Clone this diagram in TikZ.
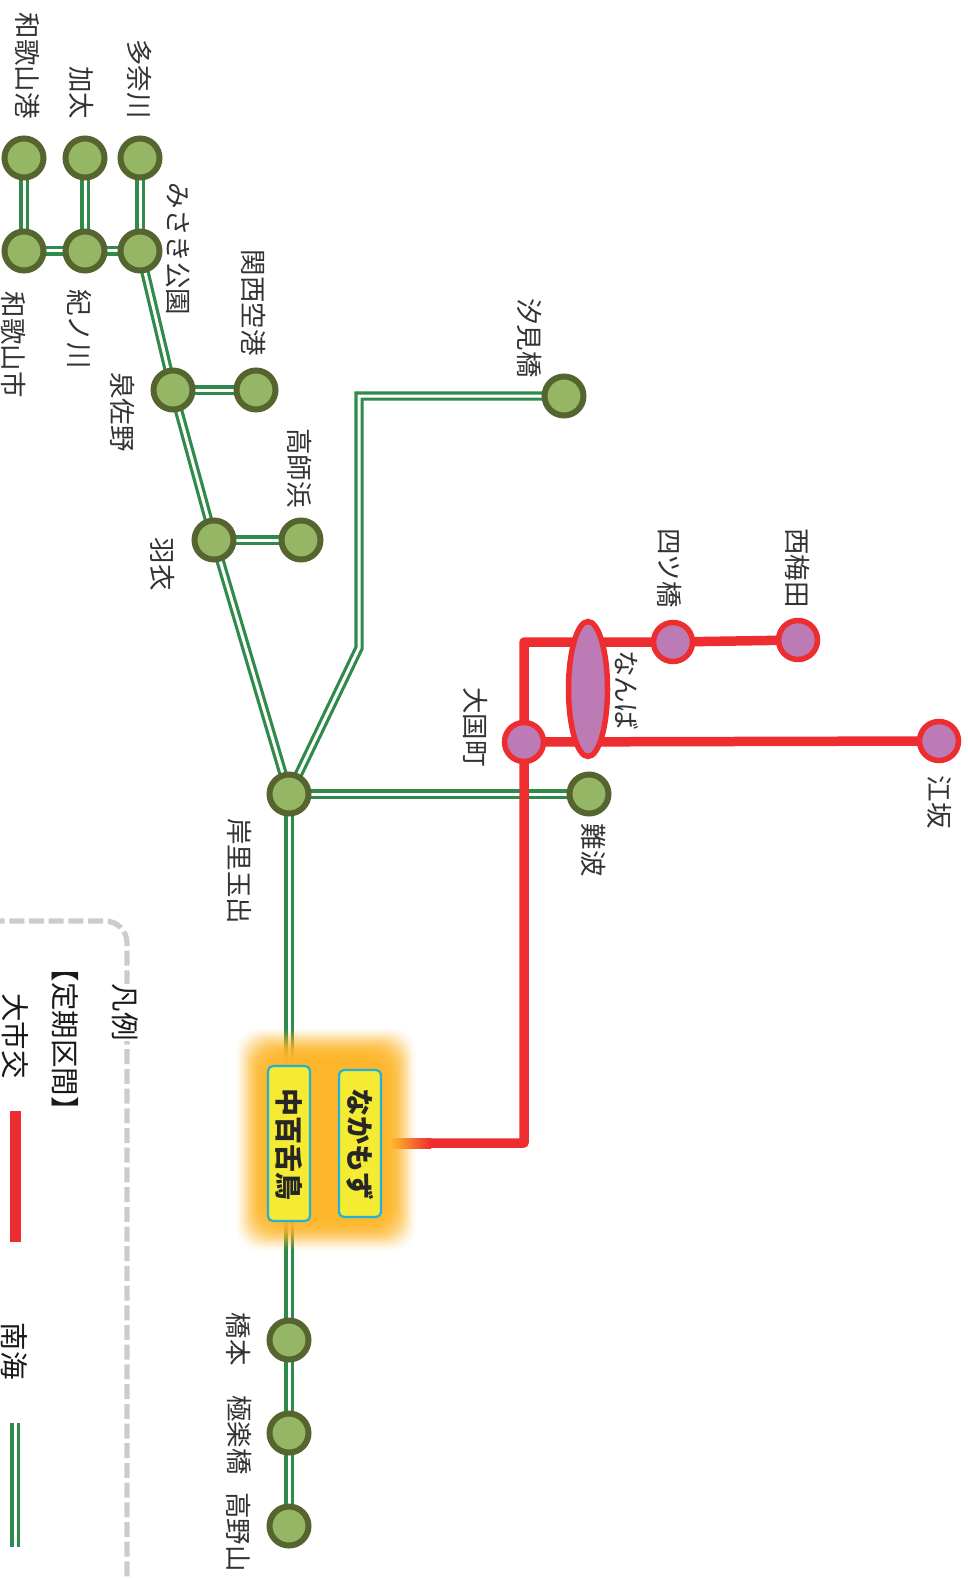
\documentclass[tikz,border=0pt]{standalone}
\usepackage{fontspec}
\setmainfont{Noto Sans CJK JP}
\usetikzlibrary{shapes.geometric,backgrounds}
\definecolor{nankai}{HTML}{2F8A4B}
\definecolor{nankaifill}{HTML}{95B765}
\definecolor{nankaiedge}{HTML}{566530}
\definecolor{daishi}{HTML}{EE2D30}
\definecolor{daishifill}{HTML}{BC7BB4}
\definecolor{glow}{HTML}{FDB62B}
\definecolor{legendgray}{HTML}{CCCCCC}
\definecolor{boxedge}{HTML}{1FB2DE}
\definecolor{boxfill}{HTML}{F4EB32}
\tikzset{
    nankaista/.style={circle,draw=nankaiedge,fill=nankaifill,line width=6pt,minimum size=39pt,inner sep=0pt,outer sep=0pt},
    daishista/.style={circle,draw=daishi,fill=daishifill,line width=5.5pt,minimum size=39pt,inner sep=0pt,outer sep=0pt},
    nankailine/.style={draw=nankai,line width=3.2pt,double=white,double distance=3pt},
    daishiline/.style={draw=daishi,line width=9.5pt,line join=round},
    stalabel/.style={xshift=1pt,rotate=-90,inner sep=0pt,font=\fontsize{26.5}{26.5}\selectfont,text=black!80},
    legendlabel/.style={rotate=-90,inner sep=0pt,font=\fontsize{28.5}{28.5}\selectfont,text=black!90},
    namebox/.style={rectangle,rounded corners=5pt,draw=boxedge,fill=boxfill,line width=2.2pt,inner sep=0pt}
}
\begin{document}
\begin{tikzpicture}[x=1pt,y=-1pt]
    \useasboundingbox (0,0) rectangle (968,1578);
    % stations
    \foreach \nm/\px/\py in {wakayamako/24/158,kada/85/158,tanagawa/140/158,wakayamashi/24/251,kinokawa/85/251,misaki/140/251,
        izumisano/173/390,kanku/256/390,hagoromo/214/540,takashi/301/540,kishinosato/289/794,nanbanankai/589/794,
        shiomibashi/564/396,hashimoto/289/1340,gokuraku/289/1433,koya/289/1526}{
        \node[nankaista] (\nm) at (\px,\py) {};
    }
    \foreach \nm/\px/\py in {daikoku/524/742,yotsubashi/673/642,nishiumeda/798/640,esaka/939/741}{
        \node[daishista] (\nm) at (\px,\py) {};
    }
    \node[ellipse,draw=daishi,fill=daishifill,line width=5.5pt,minimum width=39pt,minimum height=135pt,inner sep=0pt,outer sep=0pt] (nanba) at (588,689) {};
    % glow
    \foreach \i in {0,2,...,36}{
        \pgfmathsetmacro{\glowop}{0.04+0.012*\i}
        \fill[glow,opacity=\glowop,rounded corners=24pt] (236+\i,1028+\i) rectangle (416-\i,1251-\i);
    }
    \shade[left color=glow,right color=daishi] (392,1138) rectangle (431,1148);
    \node[namebox,minimum width=42pt,minimum height=155pt] (nakamozust) at (289,1143.5) {};
    \node[namebox,minimum width=42pt,minimum height=147pt] (nakamozusub) at (360,1143.5) {};
    \node[rotate=-90,inner sep=0pt,font=\fontsize{28}{28}\selectfont\bfseries,text=black!85] (nakamozutxt) at (289,1144) {中百舌鳥};
    \node[rotate=-90,inner sep=0pt,font=\fontsize{28}{28}\selectfont\bfseries,text=black!85] (nakamozukana) at (360,1144) {なかもず};
    % lines
    \coordinate (bendtop) at (359,396);
    \coordinate (bendlow) at (359,648);
    \coordinate (corner) at (524,642);
    \coordinate (cornerlow) at (524,1143);
    \coordinate (fadeend) at (431,1143);
    \begin{scope}[on background layer]
        \foreach \a/\b in {wakayamako/wakayamashi,kada/kinokawa,tanagawa/misaki,wakayamashi/kinokawa,kinokawa/misaki,misaki/izumisano,
            izumisano/kanku,izumisano/hagoromo,hagoromo/takashi,hagoromo/kishinosato,kishinosato/nanbanankai,kishinosato/nakamozust,
            nakamozust/hashimoto,hashimoto/gokuraku,gokuraku/koya}{
            \draw[nankailine] (\a)--(\b);
        }
        \draw[nankailine] (kishinosato)--(bendlow)--(bendtop)--(shiomibashi);
        \draw[daishiline] (nishiumeda)--(yotsubashi)--(corner)--(cornerlow)--(fadeend);
        \draw[daishiline] (daikoku)--(esaka);
    \end{scope}
    % station names
    \foreach \nm/\px/\py/\txt in {l1/27/66/和歌山港,l2/81/93/加太,l3/138/79/多奈川,l4/13/345/和歌山市,l5/78/329/紀ノ川,l6/177/249/みさき公園,
        l7/253/303/関西空港,l8/122/412/泉佐野,l9/162/564/羽衣,l10/299/468/高師浜,l11/529/338/汐見橋,l12/669/568/四ツ橋,
        l13/797/568/西梅田,l14/626/690/なんば,l15/475/727/大国町,l16/939/802/江坂,l17/593/850/難波,l18/239/871/岸里玉出,
        l19/238/1339/橋本,l20/239/1435/極楽橋,l21/238/1532/高野山}{
        \node[stalabel] (\nm) at (\px,\py) {\txt};
    }
    % legend
    \coordinate (frametop) at (0,921);
    \coordinate (framecorner) at (127,921);
    \coordinate (framelow) at (127,1578);
    \draw[legendgray,line width=5.3pt,dash pattern=on 15pt off 4.7pt,dash phase=10.4pt,rounded corners=22pt] (frametop)--(framecorner)--(framelow);
    \node[legendlabel,fill=white] (legendtitle) at (125,1012) {凡例};
    \node[legendlabel] (legendterm) at (65,1039) {【定期区間】};
    \node[legendlabel] (legendshi) at (15,1036) {大市交};
    \node[legendlabel] (legendnan) at (14.5,1351) {南海};
    \coordinate (redtop) at (15.5,1111);
    \coordinate (redlow) at (15.5,1242);
    \coordinate (greentop) at (15,1423);
    \coordinate (greenlow) at (15,1547);
    \draw[daishi,line width=11pt] (redtop)--(redlow);
    \draw[nankailine,line width=3.5pt] (greentop)--(greenlow);
\end{tikzpicture}
\end{document}
